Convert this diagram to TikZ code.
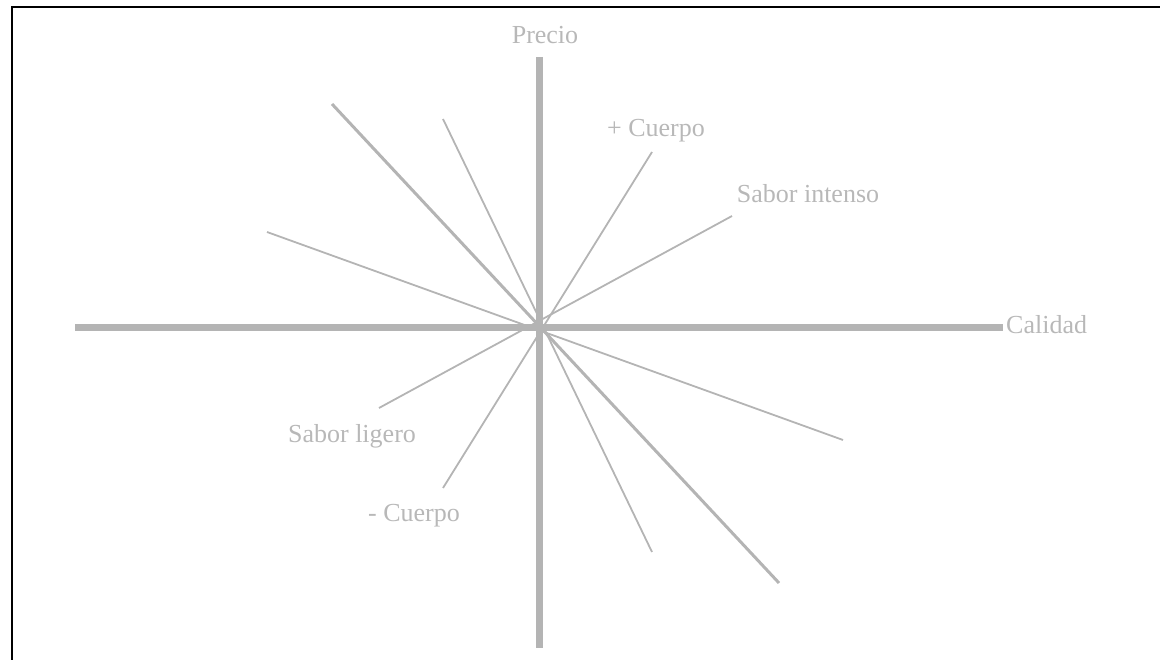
\documentclass[tikz,border=0pt]{standalone}
\usepackage{fontspec}
\setmainfont{Liberation Serif}
\usepackage{tikz}
\usetikzlibrary{positioning}

\definecolor{axisgray}{RGB}{180,180,180}
\definecolor{labelgray}{RGB}{184,184,184}

\begin{document}
\begin{tikzpicture}[x=1pt, y=-1pt, font=\fontsize{26}{30}\selectfont]
  \tikzstyle{axis}=[draw=axisgray, line width=7.5pt]
  \tikzstyle{mainray}=[draw=axisgray, line width=3pt]
  \tikzstyle{ray}=[draw=axisgray, line width=1.8pt]
  \tikzstyle{lbl}=[text=labelgray, inner sep=0pt]

  \useasboundingbox (0,0) rectangle (1160,660);
  \draw[black, line width=2pt] (11.5,670) |- (1170,7.5);

  % end points
  \coordinate (p_top) at (539.5,57);
  \coordinate (p_bot) at (539.5,648);
  \coordinate (c_left) at (75,327.5);
  \coordinate (c_right) at (1003,327.5);
  \coordinate (d_tl) at (332,104);
  \coordinate (d_br) at (779,583);
  \coordinate (s_top) at (443,119);
  \coordinate (s_bot) at (652,552);
  \coordinate (f_left) at (267,232);
  \coordinate (f_right) at (843,440);
  \coordinate (cu_plus) at (652,152);
  \coordinate (cu_minus) at (443,488);
  \coordinate (sa_int) at (732,216);
  \coordinate (sa_lig) at (379,408);

  % rays
  \draw[ray] (s_top) -- (s_bot);
  \draw[ray] (f_left) -- (f_right);
  \draw[ray] (cu_plus) -- (cu_minus);
  \draw[ray] (sa_int) -- (sa_lig);
  \draw[mainray] (d_tl) -- (d_br);

  % axes
  \draw[axis] (p_top) -- (p_bot);
  \draw[axis] (c_left) -- (c_right);

  % labels
  \node[lbl] (precio) at (545,35) {Precio};
  \node[lbl, anchor=west] (calidad) at (1006,325) {Calidad};
  \node[lbl] (cuerpo_mas) at (656,131) {+ Cuerpo};
  \node[lbl] (sabor_int) at (808,194) {Sabor intenso};
  \node[lbl] (sabor_lig) at (352,436) {Sabor ligero};
  \node[lbl] (cuerpo_menos) at (414,516) {- Cuerpo};
\end{tikzpicture}
\end{document}
